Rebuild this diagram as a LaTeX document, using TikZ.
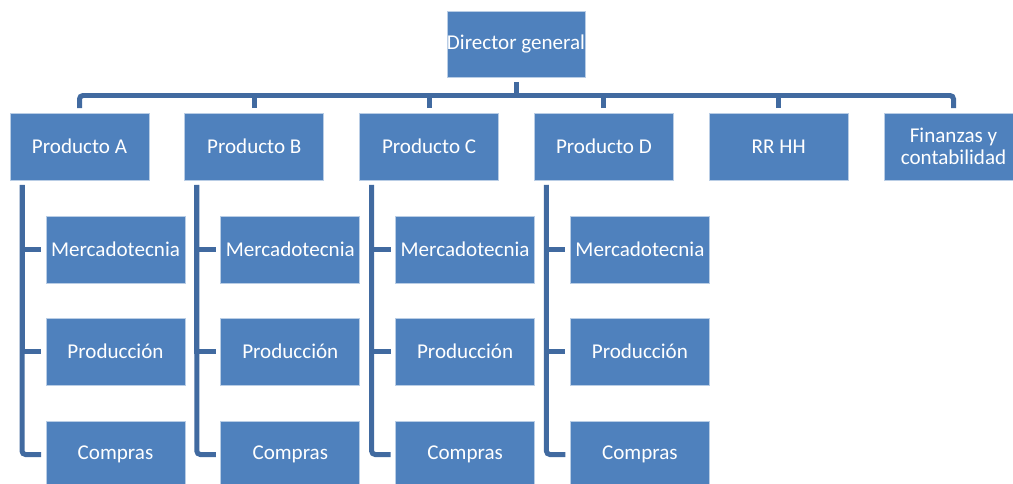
\documentclass[tikz,border=0pt]{standalone}
\usepackage{fontspec}
\setmainfont{Carlito}
\usepackage{xcolor}
\usepackage{tikz}
\usetikzlibrary{calc}
\definecolor{OrgBlue}{RGB}{79,129,189}
\definecolor{OrgLine}{RGB}{65,106,160}

\begin{document}
\begin{tikzpicture}[x=0.02cm, y=-0.02cm,
                % Style ô (xanh dương)
                box/.style={rectangle, draw=OrgBlue!40!white, line width=0.4pt, fill=OrgBlue, text=white, font=\fontsize{12}{12.5}\selectfont, align=center, minimum width=2.78cm, minimum height=1.34cm, inner sep=0pt, outer sep=0.1cm},
                % Style ô giám đốc
                topbox/.style={box, minimum width=2.76cm, minimum height=1.32cm},
                % Style đường nối
                conn/.style={draw=OrgLine, line width=0.1cm}
            ]
                \useasboundingbox (0,0) rectangle (1013,483);

                % --- VẼ Ô ---
                % Root
                \node[topbox] (dir) at (516, 44) {Director general};

                % Level 2
                \node[box] (pA) at (79.5, 146.5) {Producto A};
                \node[box] (pB) at (254.3, 146.5) {Producto B};
                \node[box] (pC) at (429.1, 146.5) {Producto C};
                \node[box] (pD) at (603.9, 146.5) {Producto D};
                \node[box] (rrhh) at (778.7, 146.5) {RR HH};
                \node[box] (fin) at (953.5, 146.5) {Finanzas y\\contabilidad};

                % Level 3
                \node[box] (aM) at (115.5, 249.5) {Mercadotecnia};
                \node[box] (aP) at (115.5, 351.5) {Producción};
                \node[box] (aC) at (115.5, 454.5) {Compras};
                \node[box] (bM) at (290.3, 249.5) {Mercadotecnia};
                \node[box] (bP) at (290.3, 351.5) {Producción};
                \node[box] (bC) at (290.3, 454.5) {Compras};
                \node[box] (cM) at (465.1, 249.5) {Mercadotecnia};
                \node[box] (cP) at (465.1, 351.5) {Producción};
                \node[box] (cC) at (465.1, 454.5) {Compras};
                \node[box] (dM) at (639.9, 249.5) {Mercadotecnia};
                \node[box] (dP) at (639.9, 351.5) {Producción};
                \node[box] (dC) at (639.9, 454.5) {Compras};

                % --- VẼ CẠNH ---
                \coordinate (bus) at (516, 95.5);
                \draw[conn] (dir.south) -- (dir.south |- bus);
                \draw[conn, rounded corners=2pt] (pA.north) |- (bus) -| (fin.north);
                \draw[conn] (pB.north) -- (pB.north |- bus); \draw[conn] (pC.north) -- (pC.north |- bus);
                \draw[conn] (pD.north) -- (pD.north |- bus); \draw[conn] (rrhh.north) -- (rrhh.north |- bus);

                % Nhánh con bên trái
                \draw[conn] ($(pA.south west)+(17,0)$) |- (aM.west); \draw[conn] ($(pA.south west)+(17,0)$) |- (aP.west);
                \draw[conn, rounded corners=2pt] ($(pA.south west)+(17,0)$) |- (aC.west);
                \draw[conn] ($(pB.south west)+(17,0)$) |- (bM.west); \draw[conn] ($(pB.south west)+(17,0)$) |- (bP.west);
                \draw[conn, rounded corners=2pt] ($(pB.south west)+(17,0)$) |- (bC.west);
                \draw[conn] ($(pC.south west)+(17,0)$) |- (cM.west); \draw[conn] ($(pC.south west)+(17,0)$) |- (cP.west);
                \draw[conn, rounded corners=2pt] ($(pC.south west)+(17,0)$) |- (cC.west);
                \draw[conn] ($(pD.south west)+(17,0)$) |- (dM.west); \draw[conn] ($(pD.south west)+(17,0)$) |- (dP.west);
                \draw[conn, rounded corners=2pt] ($(pD.south west)+(17,0)$) |- (dC.west);

            \end{tikzpicture}
\end{document}
